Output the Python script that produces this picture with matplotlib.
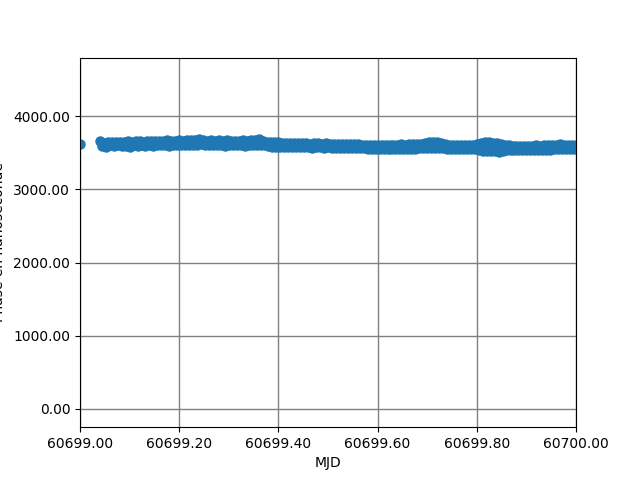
import matplotlib
matplotlib.use("Agg")
import matplotlib.pyplot as plt
from matplotlib.ticker import FormatStrFormatter

# MJD day start and fraction of day for each sample
mjd0 = 60699
t_frac = [0.000,
          0.040, 0.044, 0.048, 0.052, 0.056, 0.060, 0.064, 0.068, 0.072, 0.076,
          0.080, 0.084, 0.088, 0.092, 0.096, 0.100, 0.104, 0.108, 0.112, 0.116,
          0.120, 0.124, 0.128, 0.132, 0.136, 0.140, 0.144, 0.148, 0.152, 0.156,
          0.160, 0.164, 0.168, 0.172, 0.176, 0.180, 0.184, 0.188, 0.192, 0.196,
          0.200, 0.204, 0.208, 0.212, 0.216, 0.220, 0.224, 0.228, 0.232, 0.236,
          0.240, 0.244, 0.248, 0.252, 0.256, 0.260, 0.264, 0.268, 0.272, 0.276,
          0.280, 0.284, 0.288, 0.292, 0.296, 0.300, 0.304, 0.308, 0.312, 0.316,
          0.320, 0.324, 0.328, 0.332, 0.336, 0.340, 0.344, 0.348, 0.352, 0.356,
          0.360, 0.364, 0.368, 0.372, 0.376, 0.380, 0.384, 0.388, 0.392, 0.396,
          0.400, 0.404, 0.408, 0.412, 0.416, 0.420, 0.424, 0.428, 0.432, 0.436,
          0.440, 0.444, 0.448, 0.452, 0.456, 0.460, 0.464, 0.468, 0.472, 0.476,
          0.480, 0.484, 0.488, 0.492, 0.496, 0.500, 0.504, 0.508, 0.512, 0.516,
          0.520, 0.524, 0.528, 0.532, 0.536, 0.540, 0.544, 0.548, 0.552, 0.556,
          0.560, 0.564, 0.568, 0.572, 0.576, 0.580, 0.584, 0.588, 0.592, 0.596,
          0.600, 0.604, 0.608, 0.612, 0.616, 0.620, 0.624, 0.628, 0.632, 0.636,
          0.640, 0.644, 0.648, 0.652, 0.656, 0.660, 0.664, 0.668, 0.672, 0.676,
          0.680, 0.684, 0.688, 0.692, 0.696, 0.700, 0.704, 0.708, 0.712, 0.716,
          0.720, 0.724, 0.728, 0.732, 0.736, 0.740, 0.744, 0.748, 0.752, 0.756,
          0.760, 0.764, 0.768, 0.772, 0.776, 0.780, 0.784, 0.788, 0.792, 0.796,
          0.800, 0.804, 0.808, 0.812, 0.816, 0.820, 0.824, 0.828, 0.832, 0.836,
          0.840, 0.844, 0.848, 0.852, 0.856, 0.860, 0.864, 0.868, 0.872, 0.876,
          0.880, 0.884, 0.888, 0.892, 0.896, 0.900, 0.904, 0.908, 0.912, 0.916,
          0.920, 0.924, 0.928, 0.932, 0.936, 0.940, 0.944, 0.948, 0.952, 0.956,
          0.960, 0.964, 0.968, 0.972, 0.976, 0.980, 0.984, 0.988, 0.992, 0.996,
          1.000]

# phase in nanoseconds
phase_ns = [3620,
            3655, 3590, 3630, 3585, 3650, 3605, 3640, 3588, 3645, 3600,
            3652, 3590, 3640, 3595, 3655, 3585, 3645, 3600, 3660, 3595,
            3662, 3600, 3650, 3596, 3665, 3605, 3655, 3598, 3660, 3600,
            3665, 3600, 3655, 3602, 3668, 3598, 3660, 3605, 3665, 3600,
            3670, 3605, 3660, 3608, 3672, 3610, 3668, 3605, 3675, 3612,
            3685, 3615, 3678, 3610, 3665, 3605, 3670, 3600, 3660, 3605,
            3668, 3602, 3660, 3598, 3670, 3605, 3662, 3600, 3665, 3603,
            3660, 3600, 3668, 3598, 3662, 3602, 3670, 3600, 3672, 3605,
            3690, 3610, 3665, 3600, 3650, 3590, 3645, 3585, 3640, 3582,
            3640, 3582, 3638, 3580, 3635, 3578, 3632, 3575, 3630, 3575,
            3630, 3575, 3628, 3572, 3630, 3575, 3625, 3570, 3628, 3572,
            3628, 3572, 3626, 3570, 3628, 3572, 3625, 3570, 3626, 3570,
            3625, 3570, 3626, 3568, 3624, 3570, 3622, 3566, 3620, 3565,
            3618, 3562, 3612, 3558, 3610, 3556, 3608, 3555, 3606, 3554,
            3606, 3552, 3608, 3554, 3605, 3550, 3610, 3555, 3612, 3552,
            3610, 3550, 3615, 3555, 3612, 3553, 3618, 3556, 3620, 3555,
            3620, 3558, 3625, 3560, 3630, 3562, 3640, 3565, 3645, 3570,
            3640, 3565, 3630, 3560, 3615, 3555, 3610, 3552, 3605, 3550,
            3605, 3550, 3606, 3548, 3604, 3550, 3608, 3546, 3610, 3545,
            3620, 3540, 3630, 3530, 3640, 3525, 3645, 3520, 3635, 3530,
            3630, 3515, 3625, 3525, 3610, 3535, 3600, 3540, 3598, 3540,
            3595, 3538, 3596, 3536, 3594, 3538, 3597, 3535, 3598, 3538,
            3600, 3540, 3598, 3538, 3602, 3540, 3605, 3542, 3600, 3545,
            3610, 3548, 3615, 3550, 3612, 3548, 3608, 3546, 3610, 3548,
            3600]

x_ticks = [60699.0, 60699.2, 60699.4, 60699.6, 60699.8, 60700.0]
y_ticks = [0, 1000, 2000, 3000, 4000]

mjd = [mjd0 + t for t in t_frac]

fig, ax = plt.subplots(figsize=(6.4, 4.8), dpi=100)
ax.plot(mjd, phase_ns, 'o', color='#1f77b4', markersize=6.5)

ax.set_xlim(60699.0, 60700.0)
ax.set_ylim(-250, 4800)
ax.set_xticks(x_ticks)
ax.set_yticks(y_ticks)
ax.xaxis.set_major_formatter(FormatStrFormatter('%.2f'))
ax.yaxis.set_major_formatter(FormatStrFormatter('%.2f'))
ax.grid(True, color='gray', linewidth=1)
ax.set_axisbelow(True)

ax.set_xlabel('MJD')
ax.set_ylabel('Phase en nanoseconde')
ax.yaxis.set_label_coords(-0.149, 0.5)

fig.savefig('out.png', dpi=100)
